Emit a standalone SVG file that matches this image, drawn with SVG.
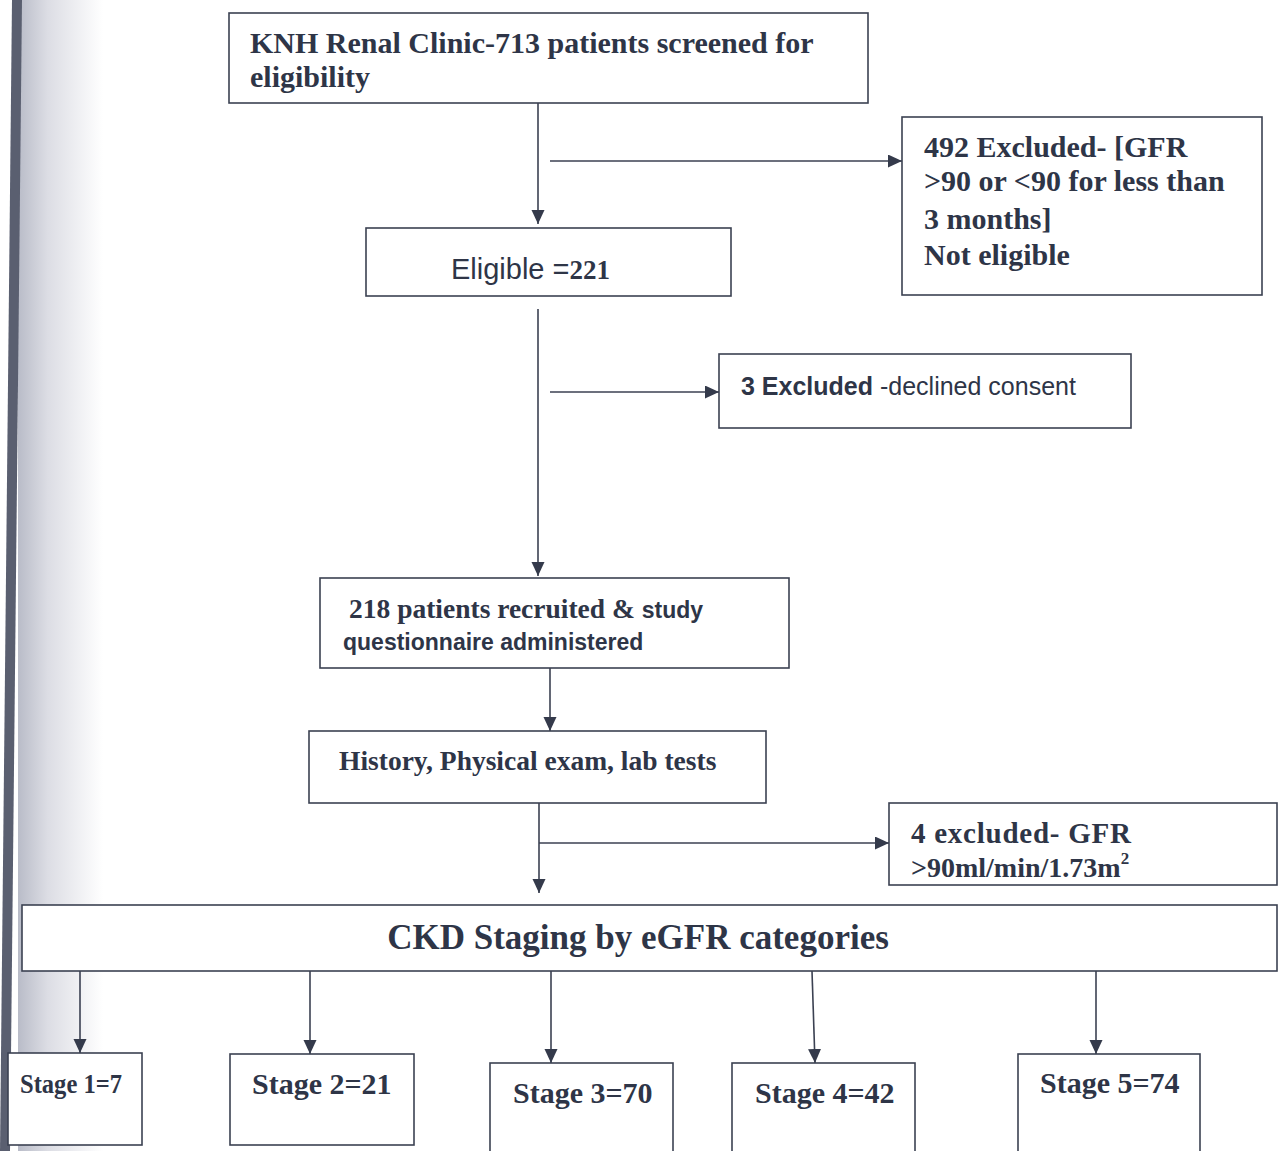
<svg xmlns="http://www.w3.org/2000/svg" width="1278" height="1151" viewBox="0 0 1278 1151">
<defs>
<linearGradient id="shade" x1="0" y1="0" x2="1" y2="0">
<stop offset="0" stop-color="#b9bcc8"/>
<stop offset="0.35" stop-color="#dcdde4"/>
<stop offset="1" stop-color="#ffffff"/>
</linearGradient>
<marker id="arr" markerUnits="userSpaceOnUse" markerWidth="16" markerHeight="14" refX="14" refY="6.5" orient="auto">
<path d="M0,0 L14,6.5 L0,13 z" fill="#343a4b"/>
</marker>
<style>
.box{fill:#ffffff;stroke:#3b4152;stroke-width:1.6}
.ln{stroke:#3b4152;stroke-width:1.6;fill:none;marker-end:url(#arr)}
.tb{font-family:"Liberation Serif","Times New Roman",serif;font-weight:bold;fill:#2e3547}
.sb{font-family:"Liberation Sans",Arial,sans-serif;font-weight:bold;fill:#2e3547}
.sr{font-family:"Liberation Sans",Arial,sans-serif;fill:#2e3547}
</style>
</defs>
<rect x="0" y="0" width="1278" height="1151" fill="#ffffff"/>
<rect x="18" y="0" width="85" height="1151" fill="url(#shade)"/>
<polygon points="12,0 22,0 10,1151 0,1151" fill="#5a5f70"/>

<g id="connectors">
<line class="ln" x1="538" y1="103" x2="538" y2="224"/>
<line class="ln" x1="550" y1="161" x2="902" y2="161"/>
<line class="ln" x1="538" y1="309" x2="538" y2="576"/>
<line class="ln" x1="550" y1="392" x2="719" y2="392"/>
<line class="ln" x1="550" y1="668" x2="550" y2="731"/>
<line class="ln" x1="539" y1="803" x2="539" y2="893"/>
<line class="ln" x1="539" y1="843" x2="889" y2="843"/>
<line class="ln" x1="80" y1="971" x2="80" y2="1053"/>
<line class="ln" x1="310" y1="971" x2="310" y2="1054"/>
<line class="ln" x1="551" y1="971" x2="551" y2="1063"/>
<line class="ln" x1="812" y1="971" x2="815" y2="1063"/>
<line class="ln" x1="1096" y1="971" x2="1096" y2="1054"/>
</g>

<g id="screened">
<rect class="box" x="229" y="13" width="639" height="90"/>
<text class="tb" x="250" y="53" font-size="30">KNH Renal Clinic-713 patients screened for</text>
<text class="tb" x="250" y="87" font-size="30">eligibility</text>
</g>

<g id="excluded492">
<rect class="box" x="902" y="117" width="360" height="178"/>
<text class="tb" x="924" y="157" font-size="30">492 Excluded- [GFR</text>
<text class="tb" x="924" y="191" font-size="30">&gt;90 or &lt;90 for less than</text>
<text class="tb" x="924" y="229" font-size="30">3 months]</text>
<text class="tb" x="924" y="265" font-size="30">Not eligible</text>
</g>

<g id="eligible">
<rect class="box" x="366" y="228" width="365" height="68"/>
<text x="451" y="279"><tspan class="sr" font-size="29">Eligible =</tspan><tspan class="tb" font-size="27">221</tspan></text>
</g>

<g id="excluded3">
<rect class="box" x="719" y="354" width="412" height="74"/>
<text x="741" y="395" font-size="25"><tspan class="sb">3 Excluded</tspan><tspan class="sr"> -declined consent</tspan></text>
</g>

<g id="recruited">
<rect class="box" x="320" y="578" width="469" height="90"/>
<text x="349" y="618"><tspan class="tb" font-size="27.5">218 patients recruited &amp; </tspan><tspan class="sb" font-size="23">study</tspan></text>
<text class="sb" x="343" y="650" font-size="23">questionnaire administered</text>
</g>

<g id="history">
<rect class="box" x="309" y="731" width="457" height="72"/>
<text class="tb" x="339" y="770" font-size="27.5">History, Physical exam, lab tests</text>
</g>

<g id="excluded4">
<rect class="box" x="889" y="803" width="388" height="82"/>
<text class="tb" x="911" y="843" font-size="29" textLength="220">4 excluded- GFR</text>
<text class="tb" x="911" y="877" font-size="28">&gt;90ml/min/1.73m<tspan font-size="17" dy="-13">2</tspan></text>
</g>

<g id="ckd">
<rect class="box" x="22" y="905" width="1255" height="66"/>
<text class="tb" x="638" y="949" font-size="35" text-anchor="middle">CKD Staging by eGFR categories</text>
</g>

<g id="stage1">
<rect class="box" x="8" y="1053" width="134" height="92"/>
<text class="tb" x="20" y="1093" font-size="28" textLength="102" lengthAdjust="spacingAndGlyphs">Stage 1=7</text>
</g>
<g id="stage2">
<rect class="box" x="230" y="1054" width="184" height="91"/>
<text class="tb" x="252" y="1094" font-size="30">Stage 2=21</text>
</g>
<g id="stage3">
<rect class="box" x="490" y="1063" width="183" height="100"/>
<text class="tb" x="513" y="1103" font-size="30">Stage 3=70</text>
</g>
<g id="stage4">
<rect class="box" x="732" y="1063" width="183" height="100"/>
<text class="tb" x="755" y="1103" font-size="30">Stage 4=42</text>
</g>
<g id="stage5">
<rect class="box" x="1018" y="1054" width="182" height="110"/>
<text class="tb" x="1040" y="1093" font-size="30">Stage 5=74</text>
</g>
</svg>
